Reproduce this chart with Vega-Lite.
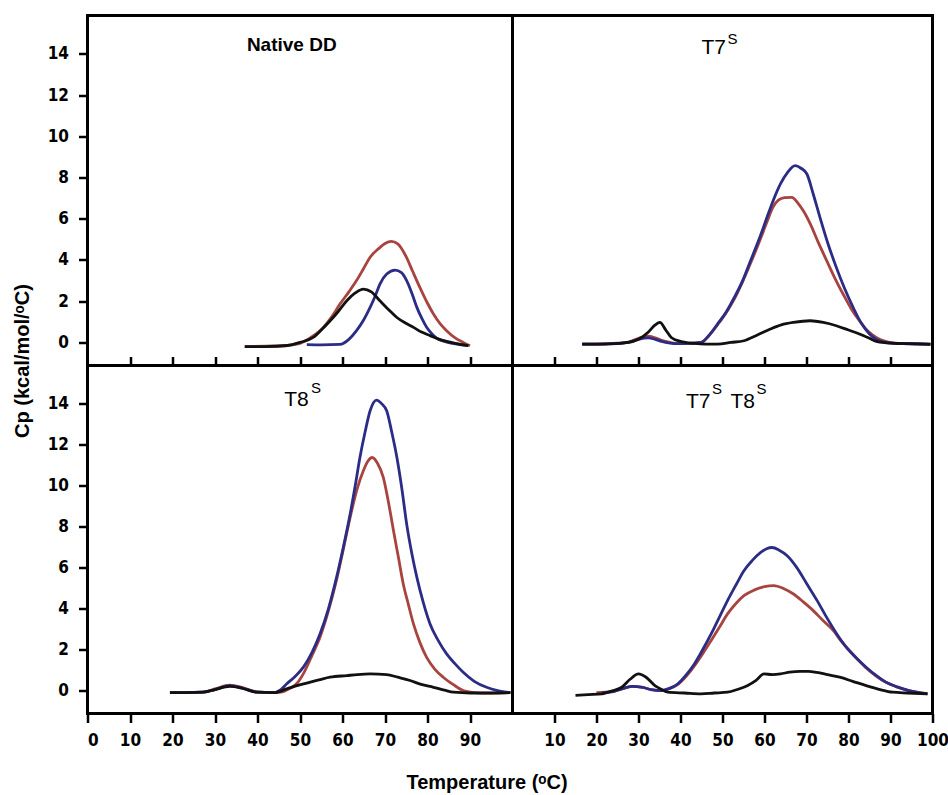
{
"$schema": "https://vega.github.io/schema/vega-lite/v6.json",
"padding": {"left": 10.5, "top": 13.5, "right": 0, "bottom": 0},
"background": "white",
"config": {
  "view": {"stroke": "#000", "strokeWidth": 3},
  "axis": {"domain": false, "grid": false, "tickColor": "#000", "tickWidth": 2.5, "tickSize": 9,
    "labelColor": "#000", "labelFont": "Liberation Sans Narrow, Arial Narrow, DejaVu Sans Condensed, sans-serif",
    "labelFontSize": 17, "labelFontWeight": "bold", "labelPadding": 10, "labelOverlap": false,
    "titleColor": "#000", "titleFont": "Liberation Sans", "titleFontSize": 20, "titleFontWeight": "bold"}
},
"datasets": {
"labels": [
 {"panel": "A", "kind": "bold", "text": "Native DD", "t": 37.5, "cp": 14.16},
 {"panel": "B", "kind": "main", "text": "T7", "t": 45.0, "cp": 14.01},
 {"panel": "B", "kind": "sup", "text": "S", "t": 51.2, "cp": 14.5},
 {"panel": "C", "kind": "main", "text": "T8", "t": 46.3, "cp": 13.89},
 {"panel": "C", "kind": "sup", "text": "S", "t": 52.6, "cp": 14.52},
 {"panel": "D", "kind": "main", "text": "T7", "t": 41.3, "cp": 13.79},
 {"panel": "D", "kind": "sup", "text": "S", "t": 47.5, "cp": 14.47},
 {"panel": "D", "kind": "main", "text": "T8", "t": 51.9, "cp": 13.79},
 {"panel": "D", "kind": "sup", "text": "S", "t": 58.1, "cp": 14.47}
],
"curves": [
{"panel":"A","series":"red","t":37,"cp":-0.2},{"panel":"A","series":"red","t":42,"cp":-0.18},{"panel":"A","series":"red","t":47,"cp":-0.15},{"panel":"A","series":"red","t":50,"cp":-0.05},{"panel":"A","series":"red","t":53,"cp":0.3},{"panel":"A","series":"red","t":55.5,"cp":0.73},{"panel":"A","series":"red","t":57.5,"cp":1.25},{"panel":"A","series":"red","t":59.4,"cp":1.86},{"panel":"A","series":"red","t":61.5,"cp":2.45},{"panel":"A","series":"red","t":63.3,"cp":3.0},{"panel":"A","series":"red","t":65,"cp":3.6},{"panel":"A","series":"red","t":66.5,"cp":4.13},{"panel":"A","series":"red","t":68.5,"cp":4.55},{"panel":"A","series":"red","t":70,"cp":4.8},{"panel":"A","series":"red","t":71.5,"cp":4.9},{"panel":"A","series":"red","t":73,"cp":4.78},{"panel":"A","series":"red","t":75,"cp":4.15},{"panel":"A","series":"red","t":76.5,"cp":3.45},{"panel":"A","series":"red","t":78.2,"cp":2.67},{"panel":"A","series":"red","t":80,"cp":1.9},{"panel":"A","series":"red","t":81.4,"cp":1.38},{"panel":"A","series":"red","t":83,"cp":0.9},{"panel":"A","series":"red","t":84.5,"cp":0.57},{"panel":"A","series":"red","t":86.5,"cp":0.22},{"panel":"A","series":"red","t":88.4,"cp":0},{"panel":"A","series":"red","t":90,"cp":-0.16},
{"panel":"A","series":"blue","t":51.6,"cp":-0.11},{"panel":"A","series":"blue","t":55,"cp":-0.12},{"panel":"A","series":"blue","t":59.4,"cp":-0.1},{"panel":"A","series":"blue","t":61.5,"cp":0.15},{"panel":"A","series":"blue","t":63.3,"cp":0.57},{"panel":"A","series":"blue","t":65,"cp":1.1},{"panel":"A","series":"blue","t":66.5,"cp":1.7},{"panel":"A","series":"blue","t":67.8,"cp":2.3},{"panel":"A","series":"blue","t":68.8,"cp":2.83},{"panel":"A","series":"blue","t":70.4,"cp":3.32},{"panel":"A","series":"blue","t":72.4,"cp":3.51},{"panel":"A","series":"blue","t":73.8,"cp":3.4},{"panel":"A","series":"blue","t":75.1,"cp":3.0},{"panel":"A","series":"blue","t":76.3,"cp":2.4},{"panel":"A","series":"blue","t":77.5,"cp":1.7},{"panel":"A","series":"blue","t":78.7,"cp":1.15},{"panel":"A","series":"blue","t":79.8,"cp":0.73},{"panel":"A","series":"blue","t":81,"cp":0.42},{"panel":"A","series":"blue","t":82.2,"cp":0.2},{"panel":"A","series":"blue","t":84,"cp":0.05},{"panel":"A","series":"blue","t":86,"cp":-0.05},{"panel":"A","series":"blue","t":88,"cp":-0.12},{"panel":"A","series":"blue","t":89.6,"cp":-0.16},
{"panel":"A","series":"black","t":37,"cp":-0.2},{"panel":"A","series":"black","t":42,"cp":-0.2},{"panel":"A","series":"black","t":47,"cp":-0.15},{"panel":"A","series":"black","t":50,"cp":0},{"panel":"A","series":"black","t":53.1,"cp":0.24},{"panel":"A","series":"black","t":55,"cp":0.6},{"panel":"A","series":"black","t":57.1,"cp":1.05},{"panel":"A","series":"black","t":59,"cp":1.5},{"panel":"A","series":"black","t":61,"cp":2.02},{"panel":"A","series":"black","t":63,"cp":2.4},{"panel":"A","series":"black","t":64.9,"cp":2.59},{"panel":"A","series":"black","t":66.8,"cp":2.45},{"panel":"A","series":"black","t":68.8,"cp":2.02},{"panel":"A","series":"black","t":70.8,"cp":1.6},{"panel":"A","series":"black","t":72.8,"cp":1.21},{"panel":"A","series":"black","t":74.8,"cp":0.94},{"panel":"A","series":"black","t":76.7,"cp":0.73},{"panel":"A","series":"black","t":78.6,"cp":0.5},{"panel":"A","series":"black","t":80.6,"cp":0.33},{"panel":"A","series":"black","t":82.5,"cp":0.17},{"panel":"A","series":"black","t":84.5,"cp":0.05},{"panel":"A","series":"black","t":87,"cp":-0.06},{"panel":"A","series":"black","t":89.6,"cp":-0.16},
{"panel":"B","series":"red","t":16.6,"cp":-0.08},{"panel":"B","series":"red","t":20,"cp":-0.08},{"panel":"B","series":"red","t":24,"cp":-0.05},{"panel":"B","series":"red","t":27.6,"cp":0.02},{"panel":"B","series":"red","t":30,"cp":0.2},{"panel":"B","series":"red","t":32.3,"cp":0.3},{"panel":"B","series":"red","t":34,"cp":0.22},{"panel":"B","series":"red","t":35.5,"cp":0.1},{"panel":"B","series":"red","t":37.5,"cp":0},{"panel":"B","series":"red","t":39.4,"cp":-0.05},{"panel":"B","series":"red","t":42,"cp":-0.05},{"panel":"B","series":"red","t":44.9,"cp":0},{"panel":"B","series":"red","t":46.8,"cp":0.33},{"panel":"B","series":"red","t":48.8,"cp":0.85},{"panel":"B","series":"red","t":50.8,"cp":1.42},{"panel":"B","series":"red","t":52.8,"cp":2.1},{"panel":"B","series":"red","t":54.8,"cp":2.95},{"panel":"B","series":"red","t":56.7,"cp":3.85},{"panel":"B","series":"red","t":58.7,"cp":4.85},{"panel":"B","series":"red","t":60.6,"cp":5.85},{"panel":"B","series":"red","t":62,"cp":6.55},{"panel":"B","series":"red","t":63.3,"cp":6.9},{"panel":"B","series":"red","t":64.8,"cp":7.02},{"panel":"B","series":"red","t":66.5,"cp":7.04},{"panel":"B","series":"red","t":68,"cp":6.75},{"panel":"B","series":"red","t":69.5,"cp":6.3},{"panel":"B","series":"red","t":70.9,"cp":5.75},{"panel":"B","series":"red","t":72.8,"cp":4.85},{"panel":"B","series":"red","t":74.8,"cp":3.97},{"panel":"B","series":"red","t":76.8,"cp":3.1},{"panel":"B","series":"red","t":78.7,"cp":2.35},{"panel":"B","series":"red","t":80.6,"cp":1.65},{"panel":"B","series":"red","t":82.6,"cp":1.05},{"panel":"B","series":"red","t":84.6,"cp":0.55},{"panel":"B","series":"red","t":86.6,"cp":0.24},{"panel":"B","series":"red","t":88.6,"cp":0.06},{"panel":"B","series":"red","t":91,"cp":-0.03},{"panel":"B","series":"red","t":95,"cp":-0.06},{"panel":"B","series":"red","t":99.5,"cp":-0.08},
{"panel":"B","series":"blue","t":16.6,"cp":-0.08},{"panel":"B","series":"blue","t":20,"cp":-0.08},{"panel":"B","series":"blue","t":24,"cp":-0.06},{"panel":"B","series":"blue","t":27.6,"cp":0},{"panel":"B","series":"blue","t":30,"cp":0.15},{"panel":"B","series":"blue","t":32.3,"cp":0.22},{"panel":"B","series":"blue","t":34,"cp":0.15},{"panel":"B","series":"blue","t":35.5,"cp":0.05},{"panel":"B","series":"blue","t":37.5,"cp":-0.03},{"panel":"B","series":"blue","t":39.4,"cp":-0.06},{"panel":"B","series":"blue","t":42,"cp":-0.05},{"panel":"B","series":"blue","t":44.9,"cp":0},{"panel":"B","series":"blue","t":46.8,"cp":0.35},{"panel":"B","series":"blue","t":48.8,"cp":0.89},{"panel":"B","series":"blue","t":50.8,"cp":1.45},{"panel":"B","series":"blue","t":52.8,"cp":2.18},{"panel":"B","series":"blue","t":54.8,"cp":3.0},{"panel":"B","series":"blue","t":56.7,"cp":3.97},{"panel":"B","series":"blue","t":58.7,"cp":5.0},{"panel":"B","series":"blue","t":60.6,"cp":6.07},{"panel":"B","series":"blue","t":62.2,"cp":6.95},{"panel":"B","series":"blue","t":63.8,"cp":7.69},{"panel":"B","series":"blue","t":65.5,"cp":8.25},{"panel":"B","series":"blue","t":67.3,"cp":8.58},{"panel":"B","series":"blue","t":68.7,"cp":8.45},{"panel":"B","series":"blue","t":70.1,"cp":8.17},{"panel":"B","series":"blue","t":71.6,"cp":7.2},{"panel":"B","series":"blue","t":73.2,"cp":6.07},{"panel":"B","series":"blue","t":75.1,"cp":4.8},{"panel":"B","series":"blue","t":77.1,"cp":3.64},{"panel":"B","series":"blue","t":79.1,"cp":2.6},{"panel":"B","series":"blue","t":81.1,"cp":1.7},{"panel":"B","series":"blue","t":83,"cp":0.95},{"panel":"B","series":"blue","t":85,"cp":0.41},{"panel":"B","series":"blue","t":86.9,"cp":0.12},{"panel":"B","series":"blue","t":88.9,"cp":0},{"panel":"B","series":"blue","t":92,"cp":-0.05},{"panel":"B","series":"blue","t":95,"cp":-0.05},{"panel":"B","series":"blue","t":99.5,"cp":-0.08},
{"panel":"B","series":"black","t":16.6,"cp":-0.08},{"panel":"B","series":"black","t":22,"cp":-0.08},{"panel":"B","series":"black","t":27.6,"cp":0},{"panel":"B","series":"black","t":30,"cp":0.15},{"panel":"B","series":"black","t":32.3,"cp":0.49},{"panel":"B","series":"black","t":33.7,"cp":0.8},{"panel":"B","series":"black","t":35.1,"cp":0.97},{"panel":"B","series":"black","t":36.5,"cp":0.6},{"panel":"B","series":"black","t":37.8,"cp":0.24},{"panel":"B","series":"black","t":40,"cp":0.05},{"panel":"B","series":"black","t":43.3,"cp":-0.05},{"panel":"B","series":"black","t":46,"cp":-0.08},{"panel":"B","series":"black","t":48.8,"cp":-0.08},{"panel":"B","series":"black","t":52,"cp":0},{"panel":"B","series":"black","t":55.1,"cp":0.08},{"panel":"B","series":"black","t":58.2,"cp":0.35},{"panel":"B","series":"black","t":61.4,"cp":0.65},{"panel":"B","series":"black","t":64,"cp":0.85},{"panel":"B","series":"black","t":66.9,"cp":0.97},{"panel":"B","series":"black","t":70.9,"cp":1.05},{"panel":"B","series":"black","t":74,"cp":0.97},{"panel":"B","series":"black","t":77.1,"cp":0.81},{"panel":"B","series":"black","t":80,"cp":0.6},{"panel":"B","series":"black","t":82.6,"cp":0.41},{"panel":"B","series":"black","t":85,"cp":0.2},{"panel":"B","series":"black","t":86.6,"cp":0.05},{"panel":"B","series":"black","t":89,"cp":-0.02},{"panel":"B","series":"black","t":93,"cp":-0.06},{"panel":"B","series":"black","t":99.5,"cp":-0.1},
{"panel":"C","series":"red","t":19.4,"cp":-0.1},{"panel":"C","series":"red","t":23,"cp":-0.1},{"panel":"C","series":"red","t":27.2,"cp":-0.08},{"panel":"C","series":"red","t":30,"cp":0.08},{"panel":"C","series":"red","t":33.5,"cp":0.26},{"panel":"C","series":"red","t":36.5,"cp":0.14},{"panel":"C","series":"red","t":39.8,"cp":-0.06},{"panel":"C","series":"red","t":43.7,"cp":-0.1},{"panel":"C","series":"red","t":45.5,"cp":-0.08},{"panel":"C","series":"red","t":47.5,"cp":0.1},{"panel":"C","series":"red","t":49.2,"cp":0.33},{"panel":"C","series":"red","t":51,"cp":0.9},{"panel":"C","series":"red","t":52.8,"cp":1.7},{"panel":"C","series":"red","t":54.7,"cp":2.6},{"panel":"C","series":"red","t":56.7,"cp":3.9},{"panel":"C","series":"red","t":58.6,"cp":5.4},{"panel":"C","series":"red","t":60.2,"cp":6.9},{"panel":"C","series":"red","t":61.8,"cp":8.45},{"panel":"C","series":"red","t":63.4,"cp":9.8},{"panel":"C","series":"red","t":64.9,"cp":10.72},{"panel":"C","series":"red","t":66,"cp":11.2},{"panel":"C","series":"red","t":67,"cp":11.37},{"panel":"C","series":"red","t":68.2,"cp":11.1},{"panel":"C","series":"red","t":69.6,"cp":10.4},{"panel":"C","series":"red","t":70.8,"cp":9.2},{"panel":"C","series":"red","t":72,"cp":7.8},{"panel":"C","series":"red","t":73.2,"cp":6.45},{"panel":"C","series":"red","t":74.3,"cp":5.2},{"panel":"C","series":"red","t":75.5,"cp":4.2},{"panel":"C","series":"red","t":76.7,"cp":3.25},{"panel":"C","series":"red","t":78.2,"cp":2.35},{"panel":"C","series":"red","t":79.8,"cp":1.62},{"panel":"C","series":"red","t":81.7,"cp":1.05},{"panel":"C","series":"red","t":83.7,"cp":0.65},{"panel":"C","series":"red","t":86,"cp":0.3},{"panel":"C","series":"red","t":88.4,"cp":0},{"panel":"C","series":"red","t":91,"cp":-0.1},{"panel":"C","series":"red","t":93.9,"cp":-0.13},{"panel":"C","series":"red","t":96.5,"cp":-0.12},{"panel":"C","series":"red","t":99.5,"cp":-0.1},
{"panel":"C","series":"blue","t":19.4,"cp":-0.1},{"panel":"C","series":"blue","t":23,"cp":-0.1},{"panel":"C","series":"blue","t":27.2,"cp":-0.08},{"panel":"C","series":"blue","t":30,"cp":0.05},{"panel":"C","series":"blue","t":33.5,"cp":0.24},{"panel":"C","series":"blue","t":36.5,"cp":0.12},{"panel":"C","series":"blue","t":39.8,"cp":-0.08},{"panel":"C","series":"blue","t":43.7,"cp":-0.1},{"panel":"C","series":"blue","t":45.5,"cp":0.05},{"panel":"C","series":"blue","t":46.9,"cp":0.33},{"panel":"C","series":"blue","t":48.9,"cp":0.7},{"panel":"C","series":"blue","t":50.8,"cp":1.14},{"panel":"C","series":"blue","t":52.8,"cp":1.85},{"panel":"C","series":"blue","t":54.7,"cp":2.76},{"panel":"C","series":"blue","t":56.7,"cp":4.0},{"panel":"C","series":"blue","t":58.6,"cp":5.52},{"panel":"C","series":"blue","t":60.2,"cp":7.0},{"panel":"C","series":"blue","t":61.8,"cp":8.61},{"panel":"C","series":"blue","t":63,"cp":10.0},{"panel":"C","series":"blue","t":64.1,"cp":11.37},{"panel":"C","series":"blue","t":65.3,"cp":12.6},{"panel":"C","series":"blue","t":66.5,"cp":13.65},{"panel":"C","series":"blue","t":68,"cp":14.17},{"panel":"C","series":"blue","t":69.2,"cp":14.0},{"panel":"C","series":"blue","t":70.4,"cp":13.65},{"panel":"C","series":"blue","t":71.6,"cp":12.6},{"panel":"C","series":"blue","t":72.8,"cp":11.37},{"panel":"C","series":"blue","t":74,"cp":9.8},{"panel":"C","series":"blue","t":75.1,"cp":8.12},{"panel":"C","series":"blue","t":76.3,"cp":6.7},{"panel":"C","series":"blue","t":77.5,"cp":5.52},{"panel":"C","series":"blue","t":79,"cp":4.3},{"panel":"C","series":"blue","t":80.6,"cp":3.25},{"panel":"C","series":"blue","t":82.5,"cp":2.45},{"panel":"C","series":"blue","t":84.5,"cp":1.79},{"panel":"C","series":"blue","t":86.5,"cp":1.3},{"panel":"C","series":"blue","t":88.4,"cp":0.89},{"panel":"C","series":"blue","t":91,"cp":0.45},{"panel":"C","series":"blue","t":93.9,"cp":0.16},{"panel":"C","series":"blue","t":96.5,"cp":0},{"panel":"C","series":"blue","t":99.5,"cp":-0.1},
{"panel":"C","series":"black","t":19.4,"cp":-0.1},{"panel":"C","series":"black","t":23,"cp":-0.1},{"panel":"C","series":"black","t":27.2,"cp":-0.08},{"panel":"C","series":"black","t":30,"cp":0.05},{"panel":"C","series":"black","t":33.5,"cp":0.2},{"panel":"C","series":"black","t":36.5,"cp":0.1},{"panel":"C","series":"black","t":39.8,"cp":-0.08},{"panel":"C","series":"black","t":44,"cp":-0.1},{"panel":"C","series":"black","t":46.9,"cp":0.08},{"panel":"C","series":"black","t":49.5,"cp":0.25},{"panel":"C","series":"black","t":52.4,"cp":0.41},{"panel":"C","series":"black","t":55,"cp":0.55},{"panel":"C","series":"black","t":57.1,"cp":0.65},{"panel":"C","series":"black","t":61,"cp":0.73},{"panel":"C","series":"black","t":63.5,"cp":0.78},{"panel":"C","series":"black","t":66.5,"cp":0.81},{"panel":"C","series":"black","t":70.4,"cp":0.78},{"panel":"C","series":"black","t":73,"cp":0.65},{"panel":"C","series":"black","t":75.9,"cp":0.49},{"panel":"C","series":"black","t":78.5,"cp":0.3},{"panel":"C","series":"black","t":81.4,"cp":0.16},{"panel":"C","series":"black","t":84,"cp":0.02},{"panel":"C","series":"black","t":86.1,"cp":-0.08},{"panel":"C","series":"black","t":90,"cp":-0.12},{"panel":"C","series":"black","t":95,"cp":-0.12},{"panel":"C","series":"black","t":99.5,"cp":-0.1},
{"panel":"D","series":"red","t":20,"cp":-0.1},{"panel":"D","series":"red","t":24,"cp":-0.05},{"panel":"D","series":"red","t":26,"cp":0.08},{"panel":"D","series":"red","t":28.4,"cp":0.2},{"panel":"D","series":"red","t":31,"cp":0.15},{"panel":"D","series":"red","t":33,"cp":0.05},{"panel":"D","series":"red","t":35.5,"cp":0},{"panel":"D","series":"red","t":37.5,"cp":0.1},{"panel":"D","series":"red","t":39.4,"cp":0.3},{"panel":"D","series":"red","t":41.3,"cp":0.68},{"panel":"D","series":"red","t":43.3,"cp":1.2},{"panel":"D","series":"red","t":45.3,"cp":1.8},{"panel":"D","series":"red","t":47.3,"cp":2.44},{"panel":"D","series":"red","t":49.3,"cp":3.1},{"panel":"D","series":"red","t":51.2,"cp":3.74},{"panel":"D","series":"red","t":53.2,"cp":4.25},{"panel":"D","series":"red","t":55.1,"cp":4.63},{"panel":"D","series":"red","t":57.5,"cp":4.9},{"panel":"D","series":"red","t":60,"cp":5.07},{"panel":"D","series":"red","t":62.2,"cp":5.12},{"panel":"D","series":"red","t":64.5,"cp":4.98},{"panel":"D","series":"red","t":66.9,"cp":4.71},{"panel":"D","series":"red","t":69.2,"cp":4.33},{"panel":"D","series":"red","t":71.6,"cp":3.9},{"panel":"D","series":"red","t":74,"cp":3.4},{"panel":"D","series":"red","t":76.4,"cp":2.92},{"panel":"D","series":"red","t":78.5,"cp":2.35},{"panel":"D","series":"red","t":80.5,"cp":1.9},{"panel":"D","series":"red","t":82.5,"cp":1.45},{"panel":"D","series":"red","t":84.2,"cp":1.1},{"panel":"D","series":"red","t":86.5,"cp":0.72},{"panel":"D","series":"red","t":88.9,"cp":0.4},{"panel":"D","series":"red","t":91.6,"cp":0.17},{"panel":"D","series":"red","t":94.4,"cp":0},{"panel":"D","series":"red","t":98.8,"cp":-0.15},
{"panel":"D","series":"blue","t":21.3,"cp":-0.1},{"panel":"D","series":"blue","t":24,"cp":-0.05},{"panel":"D","series":"blue","t":26,"cp":0.08},{"panel":"D","series":"blue","t":28.4,"cp":0.2},{"panel":"D","series":"blue","t":31,"cp":0.15},{"panel":"D","series":"blue","t":33,"cp":0.05},{"panel":"D","series":"blue","t":35.5,"cp":0},{"panel":"D","series":"blue","t":37.5,"cp":0.12},{"panel":"D","series":"blue","t":39.4,"cp":0.33},{"panel":"D","series":"blue","t":41.3,"cp":0.75},{"panel":"D","series":"blue","t":43.3,"cp":1.3},{"panel":"D","series":"blue","t":45.3,"cp":2.0},{"panel":"D","series":"blue","t":47.3,"cp":2.76},{"panel":"D","series":"blue","t":49.3,"cp":3.6},{"panel":"D","series":"blue","t":51.2,"cp":4.39},{"panel":"D","series":"blue","t":53.2,"cp":5.15},{"panel":"D","series":"blue","t":55.1,"cp":5.85},{"panel":"D","series":"blue","t":57.1,"cp":6.35},{"panel":"D","series":"blue","t":59.1,"cp":6.74},{"panel":"D","series":"blue","t":60.5,"cp":6.92},{"panel":"D","series":"blue","t":61.8,"cp":6.98},{"panel":"D","series":"blue","t":63.5,"cp":6.85},{"panel":"D","series":"blue","t":65.4,"cp":6.58},{"panel":"D","series":"blue","t":67.7,"cp":6.0},{"panel":"D","series":"blue","t":70.1,"cp":5.2},{"panel":"D","series":"blue","t":72.5,"cp":4.4},{"panel":"D","series":"blue","t":74.8,"cp":3.57},{"panel":"D","series":"blue","t":77.1,"cp":2.8},{"panel":"D","series":"blue","t":79.5,"cp":2.11},{"panel":"D","series":"blue","t":81.8,"cp":1.6},{"panel":"D","series":"blue","t":84.2,"cp":1.14},{"panel":"D","series":"blue","t":86.5,"cp":0.75},{"panel":"D","series":"blue","t":88.9,"cp":0.41},{"panel":"D","series":"blue","t":91.6,"cp":0.18},{"panel":"D","series":"blue","t":94.4,"cp":0},{"panel":"D","series":"blue","t":98.8,"cp":-0.16},
{"panel":"D","series":"black","t":15,"cp":-0.24},{"panel":"D","series":"black","t":18,"cp":-0.2},{"panel":"D","series":"black","t":21.3,"cp":-0.16},{"panel":"D","series":"black","t":24,"cp":0},{"panel":"D","series":"black","t":26,"cp":0.16},{"panel":"D","series":"black","t":28,"cp":0.55},{"panel":"D","series":"black","t":30,"cp":0.81},{"panel":"D","series":"black","t":31.8,"cp":0.65},{"panel":"D","series":"black","t":33.9,"cp":0.24},{"panel":"D","series":"black","t":35.5,"cp":0.05},{"panel":"D","series":"black","t":37,"cp":-0.08},{"panel":"D","series":"black","t":41,"cp":-0.12},{"panel":"D","series":"black","t":44.9,"cp":-0.16},{"panel":"D","series":"black","t":48,"cp":-0.12},{"panel":"D","series":"black","t":51.2,"cp":-0.08},{"panel":"D","series":"black","t":53.5,"cp":0.05},{"panel":"D","series":"black","t":55.9,"cp":0.24},{"panel":"D","series":"black","t":58,"cp":0.5},{"panel":"D","series":"black","t":59.9,"cp":0.81},{"panel":"D","series":"black","t":61.8,"cp":0.78},{"panel":"D","series":"black","t":63.8,"cp":0.81},{"panel":"D","series":"black","t":66,"cp":0.9},{"panel":"D","series":"black","t":68.5,"cp":0.94},{"panel":"D","series":"black","t":70.5,"cp":0.94},{"panel":"D","series":"black","t":72.4,"cp":0.89},{"panel":"D","series":"black","t":75,"cp":0.78},{"panel":"D","series":"black","t":77.9,"cp":0.65},{"panel":"D","series":"black","t":81,"cp":0.45},{"panel":"D","series":"black","t":84.2,"cp":0.24},{"panel":"D","series":"black","t":87.5,"cp":0.05},{"panel":"D","series":"black","t":90.5,"cp":-0.08},{"panel":"D","series":"black","t":94,"cp":-0.12},{"panel":"D","series":"black","t":98.8,"cp":-0.16}
]
},
"columns": 2,
"spacing": 0,
"bounds": "flush",
"concat": [
  {"width": 425, "height": 350,
   "encoding": {
    "x": {"field": "t", "type": "quantitative", "scale": {"domain": [0, 100], "nice": false, "zero": false},
          "axis": {"values": [10,20,30,40,50,60,70,80,90], "labels": false, "tickSize": -9, "title": null}},
    "y": {"field": "cp", "type": "quantitative", "scale": {"domain": [-1.12, 15.86], "nice": false, "zero": false},
          "axis": {"values": [0,2,4,6,8,10,12,14], "title": "Cp (kcal/mol/ᵒC)", "titleX": -59.5, "titleY": 345, "titleAngle": 270, "titleAlign": "center", "titleBaseline": "alphabetic"}}
   },
   "layer": [
    {"data": {"name": "curves"}, "transform": [{"filter": "datum.panel === 'A'"}],
     "mark": {"type": "line", "strokeWidth": 2.8, "interpolate": "monotone"},
     "encoding": {"color": {"field": "series", "type": "nominal", "scale": {"domain": ["red","blue","black"], "range": ["#a8443f","#2b2c85","#111111"]}, "legend": null}}},
    {"data": {"name": "labels"}, "transform": [{"filter": "datum.panel === 'A' && datum.kind === 'bold'"}],
     "mark": {"type": "text", "align": "left", "baseline": "alphabetic", "font": "Liberation Sans", "fontSize": 19, "fontWeight": "bold", "color": "#000"},
     "encoding": {"text": {"field": "text"}}}
   ]},
  {"width": 420, "height": 350,
   "encoding": {
    "x": {"field": "t", "type": "quantitative", "scale": {"domain": [0, 100], "nice": false, "zero": false},
          "axis": {"values": [10,20,30,40,50,60,70,80,90], "labels": false, "tickSize": -9, "title": null}},
    "y": {"field": "cp", "type": "quantitative", "scale": {"domain": [-1.12, 15.86], "nice": false, "zero": false}, "axis": null}
   },
   "layer": [
    {"data": {"name": "curves"}, "transform": [{"filter": "datum.panel === 'B'"}],
     "mark": {"type": "line", "strokeWidth": 2.8, "interpolate": "monotone"},
     "encoding": {"color": {"field": "series", "type": "nominal", "scale": {"domain": ["red","blue","black"], "range": ["#a8443f","#2b2c85","#111111"]}, "legend": null}}},
    {"data": {"name": "labels"}, "transform": [{"filter": "datum.panel === 'B' && datum.kind === 'main'"}],
     "mark": {"type": "text", "align": "left", "baseline": "alphabetic", "font": "Liberation Sans", "fontSize": 21, "color": "#000"},
     "encoding": {"text": {"field": "text"}}},
    {"data": {"name": "labels"}, "transform": [{"filter": "datum.panel === 'B' && datum.kind === 'sup'"}],
     "mark": {"type": "text", "align": "left", "baseline": "alphabetic", "font": "Liberation Sans", "fontSize": 15, "color": "#000"},
     "encoding": {"text": {"field": "text"}}}
   ]},
  {"width": 425, "height": 348,
   "encoding": {
    "x": {"field": "t", "type": "quantitative", "scale": {"domain": [0, 100], "nice": false, "zero": false},
          "axis": {"values": [0,10,20,30,40,50,60,70,80,90], "title": "Temperature (ᵒC)", "titleX": 399, "titleY": 75, "titleAlign": "center", "titleBaseline": "alphabetic"}},
    "y": {"field": "cp", "type": "quantitative", "scale": {"domain": [-1.12, 15.86], "nice": false, "zero": false},
          "axis": {"values": [0,2,4,6,8,10,12,14], "title": null}}
   },
   "layer": [
    {"data": {"name": "curves"}, "transform": [{"filter": "datum.panel === 'C'"}],
     "mark": {"type": "line", "strokeWidth": 2.8, "interpolate": "monotone"},
     "encoding": {"color": {"field": "series", "type": "nominal", "scale": {"domain": ["red","blue","black"], "range": ["#a8443f","#2b2c85","#111111"]}, "legend": null}}},
    {"data": {"name": "labels"}, "transform": [{"filter": "datum.panel === 'C' && datum.kind === 'main'"}],
     "mark": {"type": "text", "align": "left", "baseline": "alphabetic", "font": "Liberation Sans", "fontSize": 21, "color": "#000"},
     "encoding": {"text": {"field": "text"}}},
    {"data": {"name": "labels"}, "transform": [{"filter": "datum.panel === 'C' && datum.kind === 'sup'"}],
     "mark": {"type": "text", "align": "left", "baseline": "alphabetic", "font": "Liberation Sans", "fontSize": 15, "color": "#000"},
     "encoding": {"text": {"field": "text"}}}
   ]},
  {"width": 420, "height": 348,
   "encoding": {
    "x": {"field": "t", "type": "quantitative", "scale": {"domain": [0, 100], "nice": false, "zero": false},
          "axis": {"values": [10,20,30,40,50,60,70,80,90,100], "title": null, "labelFlush": false}},
    "y": {"field": "cp", "type": "quantitative", "scale": {"domain": [-1.12, 15.86], "nice": false, "zero": false}, "axis": null}
   },
   "layer": [
    {"data": {"name": "curves"}, "transform": [{"filter": "datum.panel === 'D'"}],
     "mark": {"type": "line", "strokeWidth": 2.8, "interpolate": "monotone"},
     "encoding": {"color": {"field": "series", "type": "nominal", "scale": {"domain": ["red","blue","black"], "range": ["#a8443f","#2b2c85","#111111"]}, "legend": null}}},
    {"data": {"name": "labels"}, "transform": [{"filter": "datum.panel === 'D' && datum.kind === 'main'"}],
     "mark": {"type": "text", "align": "left", "baseline": "alphabetic", "font": "Liberation Sans", "fontSize": 21, "color": "#000"},
     "encoding": {"text": {"field": "text"}}},
    {"data": {"name": "labels"}, "transform": [{"filter": "datum.panel === 'D' && datum.kind === 'sup'"}],
     "mark": {"type": "text", "align": "left", "baseline": "alphabetic", "font": "Liberation Sans", "fontSize": 15, "color": "#000"},
     "encoding": {"text": {"field": "text"}}}
   ]}
]
}
